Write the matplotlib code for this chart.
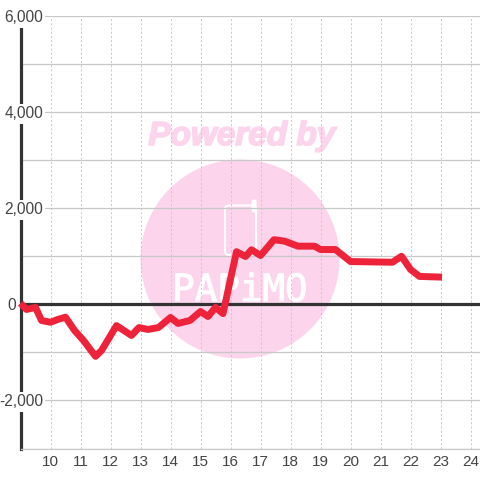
import matplotlib
matplotlib.use("Agg")
import matplotlib.pyplot as plt
import matplotlib.patheffects as pe
from matplotlib.patches import Circle, FancyBboxPatch

hours = [9.0, 9.2, 9.5, 9.7, 10.0, 10.25, 10.5, 10.8, 11.1, 11.5, 11.7, 12.2, 12.7, 12.95,
         13.25, 13.6, 14.0, 14.25, 14.65, 15.0, 15.25, 15.5, 15.75, 16.2, 16.5, 16.7, 17.0,
         17.45, 17.8, 18.25, 18.8, 19.0, 19.5, 20.0, 21.4, 21.7, 22.0, 22.3, 23.05]
values = [27, -104, -60, -333, -370, -310, -265, -540, -750, -1080, -960, -440, -645, -480,
          -520, -480, -270, -395, -333, -146, -250, -60, -190, 1100, 1000, 1140, 1020,
          1350, 1320, 1215, 1215, 1145, 1145, 895, 880, 1005, 730, 585, 570]
x_ticks = list(range(10, 25))
y_major = [-2000, 0, 2000, 4000, 6000]
y_minor = [-3000, -1000, 1000, 3000, 5000]

plt.rcParams['font.family'] = ['Liberation Sans', 'DejaVu Sans']
W = 480
PX = 0.72  # points per pixel
fig = plt.figure(figsize=(4.8, 4.8), dpi=100, facecolor='white')

# watermark lives on its own layer in pixel space, beneath the chart
bg = fig.add_axes([0, 0, 1, 1], zorder=0)
bg.set_xlim(0, W); bg.set_ylim(W, 0); bg.axis('off')
PINK = '#fcd5ec'
bg.add_patch(Circle((240, 259), 99.5, fc=PINK, ec='none'))
bg.text(242, 136.5, 'Powered by', color=PINK, fontsize=24, fontweight='bold', style='italic',
        ha='center', va='center',
        path_effects=[pe.withStroke(linewidth=1.2, foreground=PINK)])
bg.add_patch(FancyBboxPatch((225, 205.5), 31, 49.5, boxstyle='round,pad=0,rounding_size=4',
                            fc='none', ec='white', lw=1.5))
bg.add_patch(FancyBboxPatch((252, 200), 4, 12, boxstyle='round,pad=0,rounding_size=2',
                            fc='white', ec='white', lw=0.8))
bg.text(240, 291, 'PAPiMO', color='white', fontsize=27, ha='center', va='center',
        family=['DejaVu Sans Mono', 'DejaVu Sans'],
        path_effects=[pe.withStroke(linewidth=0.7, foreground='white')])

ax = fig.add_axes([20.5 / W, (W - 448.5) / W, (W - 20.5) / W, 432.5 / W], zorder=1)
ax.patch.set_alpha(0)
ax.set_xlim(9, 9 + (W - 20.5) / 30)
ax.set_ylim(-2990, 6010)

ax.set_yticks(y_major)
ax.set_yticks(y_minor, minor=True)
ax.set_xticks(x_ticks)
ax.grid(True, axis='y', which='both', color='#c8c8c8', lw=0.9, zorder=1)
ax.grid(True, axis='x', which='major', color='#c8c8c8', lw=0.72, ls=(0, (2, 2.2)), zorder=1)
ax.set_axisbelow(True)

for s in ['top', 'right']:
    ax.spines[s].set_visible(False)
ax.spines['bottom'].set_color('#c8c8c8')
ax.spines['bottom'].set_linewidth(0.9)
ax.spines['left'].set_color('#333333')
ax.spines['left'].set_linewidth(2.3)
ax.spines['left'].set_zorder(2)

ax.axhline(0, color='#333333', lw=2.3, zorder=2)
ax.plot(hours, values, color='#ee2239', lw=5.0, solid_joinstyle='round', solid_capstyle='butt',
        zorder=3, clip_on=False)

ax.tick_params(axis='both', which='both', length=0)
ax.tick_params(axis='x', labelsize=11, labelcolor='#444444', pad=5)
ax.tick_params(axis='y', labelleft=False)

for v in y_major:
    zero = v == 0
    ax.annotate(f'{v:,}', xy=(0, v), xycoords=ax.get_yaxis_transform(),
                xytext=((16 - 20.5) * PX if zero else (43 - 20.5) * PX, 0),
                textcoords='offset points', ha='right', va='center_baseline',
                fontsize=11.2, color='#444444', zorder=2.5 if zero else 5,
                annotation_clip=False,
                bbox=None if zero else dict(fc='white', ec='none', pad=1.5))

fig.savefig('out.png', dpi=100)
